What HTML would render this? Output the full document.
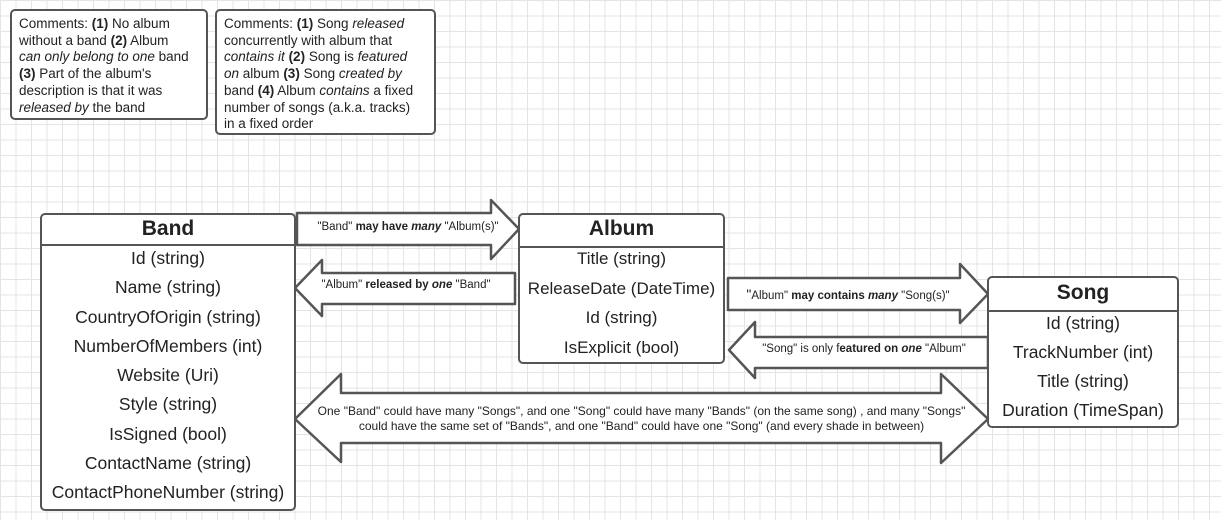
<!DOCTYPE html>
<html><head><meta charset="utf-8"><style>
body{margin:0;width:1221px;height:520px;overflow:hidden;background:#fff;font-family:"Liberation Sans",sans-serif;color:#222}
.grid{position:absolute;left:0;top:0;width:1221px;height:520px;background-image:linear-gradient(#e4e4e4 1px,transparent 1px),linear-gradient(90deg,#e4e4e4 1px,transparent 1px);background-size:15.5px 15.5px}
.box{position:absolute;border:2px solid #555;border-radius:5px;background:#fff;box-sizing:border-box}
.c{font-size:13.5px;line-height:16.7px;padding:5px 7px;white-space:nowrap}
.ent .h{font-weight:bold;font-size:21px;text-align:center;border-bottom:2px solid #555}
.ent .r{font-size:17.5px;text-align:center;white-space:nowrap}
svg{position:absolute;left:0;top:0}
.t{position:absolute;font-size:11.5px;text-align:center;white-space:nowrap}
</style></head><body>
<div class="grid"></div>
<div class="box c" style="left:10px;top:9px;width:198px;height:111px">Comments: <b>(1)</b> No album<br>without a band <b>(2)</b> Album<br><i>can only belong to one</i> band<br><b>(3)</b> Part of the album's<br>description is that it was<br><i>released by</i> the band</div>
<div class="box c" style="left:215px;top:9px;width:221px;height:126px">Comments: <b>(1)</b> Song <i>released</i><br>concurrently with album that<br><i>contains it</i> <b>(2)</b> Song is <i>featured</i><br><i>on</i> album <b>(3)</b> Song <i>created by</i><br>band <b>(4)</b> Album <i>contains</i> a fixed<br>number of songs (a.k.a. tracks)<br>in a fixed order</div>
<svg width="1221" height="520"><g fill="#fff" stroke="#555" stroke-width="2.5" stroke-linejoin="round">
<path d="M297 213 H491 V200 L519 229 L491 259 V245 H297 Z"/>
<path d="M515 273 H322 V260 L295 288 L322 316 V304 H515 Z"/>
<path d="M728 278 H960 V264 L988 294 L960 323 V310 H728 Z"/>
<path d="M988 337 H755 V322 L729 350 L755 378 V368 H988 Z"/>
<path d="M295 419 L341 374 V393 H941 V374 L988 419 L941 463 V443 H341 V462 Z"/>
</g></svg>
<div class="t" style="left:297px;top:221px;width:222px">"Band" <b>may have <i>many</i></b> "Album(s)"</div>
<div class="t" style="left:297px;top:279px;width:218px">"Album" <b>released by <i>one</i></b> "Band"</div>
<div class="t" style="left:728px;top:286px;width:240px"><span style="font-size:14px">"</span>Album" <b>may contains <i>many</i></b> "Song(s)"</div>
<div class="t" style="left:740px;top:343px;width:248px">"Song" is only f<b>eatured on <i>one</i></b> "Album"</div>
<div class="t" style="left:300px;top:404px;width:683px;line-height:15px;font-size:12px">One "Band" could have many "Songs", and one "Song" could have many "Bands" (on the same song) , and many "Songs"<br>could have the same set of "Bands", and one "Band" could have one "Song" (and every shade in between)</div>
<div class="box ent" style="left:40px;top:213px;width:256px;height:298px"><div class="h" style="height:29px;line-height:27px">Band</div>
<div class="r" style="line-height:29.3px;margin-top:-2px">Id (string)<br>Name (string)<br>CountryOfOrigin (string)<br>NumberOfMembers (int)<br>Website (Uri)<br>Style (string)<br>IsSigned (bool)<br>ContactName (string)<br>ContactPhoneNumber (string)</div></div>
<div class="box ent" style="left:518px;top:213px;width:207px;height:151px"><div class="h" style="height:31px;line-height:28px">Album</div>
<div class="r" style="line-height:29.5px;margin-top:-4px;font-size:17px">Title (string)<br>ReleaseDate (DateTime)<br>Id (string)<br>IsExplicit (bool)</div></div>
<div class="box ent" style="left:987px;top:276px;width:192px;height:152px"><div class="h" style="height:32px;line-height:29px">Song</div>
<div class="r" style="line-height:29px;margin-top:-3px">Id (string)<br>TrackNumber (int)<br>Title (string)<br>Duration (TimeSpan)</div></div>
</body></html>
